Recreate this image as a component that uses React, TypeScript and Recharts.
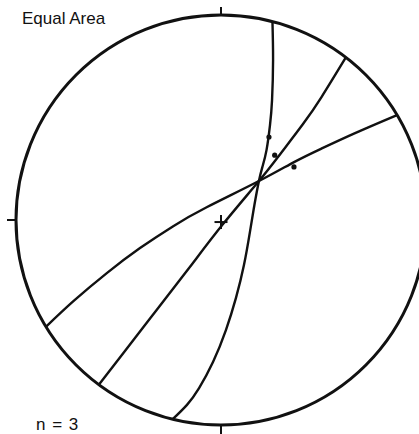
import React from 'react';
import {
  ComposedChart,
  Line,
  Scatter,
  XAxis,
  YAxis,
  ReferenceDot,
  ReferenceLine,
  Customized,
} from 'recharts';

// Equal-area (Schmidt) net, lower hemisphere, unit-circle coordinates.
// Great circles.
const plane1 = [
  { x: 0.251, y: 0.968 },
  { x: 0.254, y: 0.78 },
  { x: 0.249, y: 0.585 },
  { x: 0.239, y: 0.463 },
  { x: 0.222, y: 0.341 },
  { x: 0.202, y: 0.259 },
  { x: 0.185, y: 0.19 },
  { x: 0.163, y: 0.073 },
  { x: 0.141, y: -0.059 },
  { x: 0.112, y: -0.22 },
  { x: 0.073, y: -0.38 },
  { x: 0.024, y: -0.537 },
  { x: -0.039, y: -0.693 },
  { x: -0.107, y: -0.82 },
  { x: -0.166, y: -0.902 },
  { x: -0.236, y: -0.972 },
];

const plane2 = [
  { x: 0.609, y: 0.793 },
  { x: 0.491, y: 0.601 },
  { x: 0.4, y: 0.468 },
  { x: 0.293, y: 0.327 },
  { x: 0.185, y: 0.19 },
  { x: 0.01, y: -0.02 },
  { x: -0.151, y: -0.228 },
  { x: -0.314, y: -0.439 },
  { x: -0.477, y: -0.65 },
  { x: -0.596, y: -0.804 },
];

const plane3 = [
  { x: 0.859, y: 0.512 },
  { x: 0.654, y: 0.424 },
  { x: 0.491, y: 0.349 },
  { x: 0.361, y: 0.285 },
  { x: 0.185, y: 0.19 },
  { x: -0.07, y: 0.062 },
  { x: -0.233, y: -0.03 },
  { x: -0.395, y: -0.137 },
  { x: -0.557, y: -0.259 },
  { x: -0.72, y: -0.396 },
  { x: -0.853, y: -0.52 },
];

// Lineation points plotted on the planes
const lineations = [
  { x: 0.234, y: 0.405 },
  { x: 0.262, y: 0.316 },
  { x: 0.356, y: 0.259 },
];

// Centre of the net
const centre = [{ x: 0, y: -0.01 }];

const title = 'Equal Area';
const countLabel = 'n = 3';

const INK = '#111';
const FONT = '"Liberation Sans", Arial, Helvetica, sans-serif';

const DotShape = (p: any) => <circle cx={p.cx} cy={p.cy} r={2.6} fill={INK} />;

const CrossShape = (p: any) => (
  <g stroke={INK} strokeWidth={2}>
    <line x1={p.cx - 6.5} y1={p.cy} x2={p.cx + 6.5} y2={p.cy} />
    <line x1={p.cx} y1={p.cy - 7} x2={p.cx} y2={p.cy + 7} />
  </g>
);

const Texts = () => (
  <g fontFamily={FONT} fill={INK}>
    <text x={22} y={24} fontSize={17}>
      {title}
    </text>
    <text x={36} y={430} fontSize={17} letterSpacing={1}>
      {countLabel}
    </text>
  </g>
);

export default function App() {
  return (
    <div
      style={{
        position: 'absolute',
        left: 0,
        top: 0,
        width: 419,
        height: 434,
        overflow: 'hidden',
        background: '#fff',
      }}
    >
      <ComposedChart
        width={440}
        height={440}
        margin={{ top: 15, right: 14, bottom: 15, left: 16 }}
      >
        <XAxis type="number" dataKey="x" domain={[-1, 1]} hide />
        <YAxis type="number" dataKey="y" domain={[-1, 1]} hide />
        <ReferenceDot
          x={0}
          y={0}
          r={205}
          fill="none"
          stroke={INK}
          strokeWidth={3}
          ifOverflow="visible"
        />
        <ReferenceLine
          segment={[{ x: 0, y: 1 }, { x: 0, y: 1.039 }]}
          stroke={INK}
          strokeWidth={2}
          ifOverflow="visible"
        />
        <ReferenceLine
          segment={[{ x: 0, y: -1 }, { x: 0, y: -1.05 }]}
          stroke={INK}
          strokeWidth={2}
          ifOverflow="visible"
        />
        <ReferenceLine
          segment={[{ x: -1, y: 0 }, { x: -1.044, y: 0 }]}
          stroke={INK}
          strokeWidth={2}
          ifOverflow="visible"
        />
        <ReferenceLine
          segment={[{ x: 1, y: 0 }, { x: 1.044, y: 0 }]}
          stroke={INK}
          strokeWidth={2}
          ifOverflow="visible"
        />
        <Line
          data={plane1}
          dataKey="y"
          type="natural"
          stroke={INK}
          strokeWidth={2.4}
          dot={false}
          activeDot={false}
          isAnimationActive={false}
        />
        <Line
          data={plane2}
          dataKey="y"
          type="natural"
          stroke={INK}
          strokeWidth={2.4}
          dot={false}
          activeDot={false}
          isAnimationActive={false}
        />
        <Line
          data={plane3}
          dataKey="y"
          type="natural"
          stroke={INK}
          strokeWidth={2.4}
          dot={false}
          activeDot={false}
          isAnimationActive={false}
        />
        <Scatter data={lineations} dataKey="y" shape={DotShape} isAnimationActive={false} />
        <Scatter data={centre} dataKey="y" shape={CrossShape} isAnimationActive={false} />
        <Customized component={Texts} />
      </ComposedChart>
    </div>
  );
}
